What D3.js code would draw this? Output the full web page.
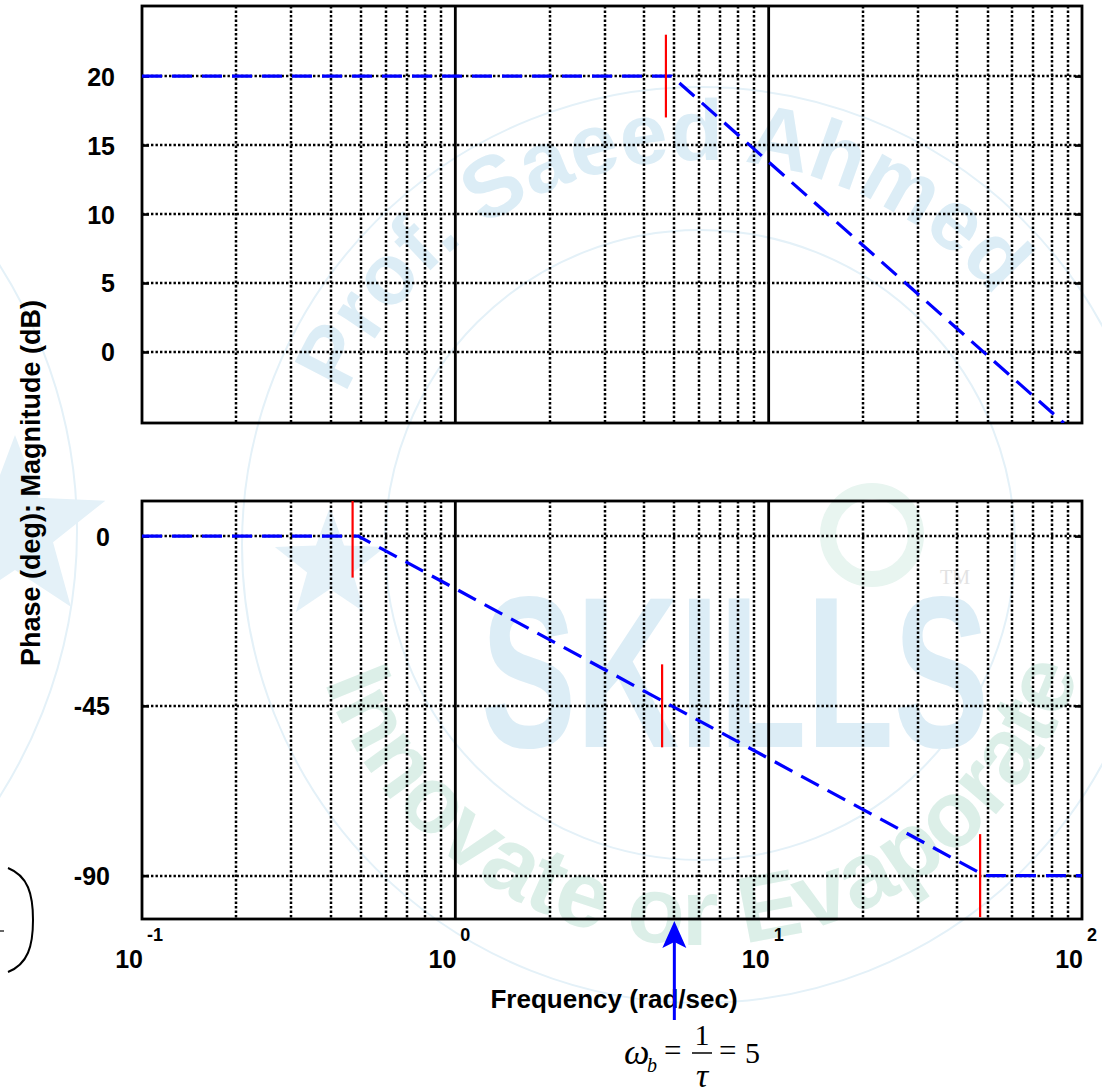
<!DOCTYPE html>
<html><head><meta charset="utf-8">
<script src="https://cdn.jsdelivr.net/npm/d3@7"></script>
<style>
html,body{margin:0;padding:0;background:#fff;}
svg{display:block;}
</style></head><body>
<svg id="chart" width="1102" height="1092"></svg>
<script>
// ---------------- data ----------------
const freqDomain = [0.1, 100];
const decadeTicks = [0.1, 1, 10, 100];
const decadeExponents = ["-1", "0", "1", "2"];
const majorGridFreqs = [1, 10];
const minorGridFreqs = [0.2, 0.3, 0.4, 0.5, 0.6, 0.7, 0.8, 0.9,
                        2, 3, 4, 5, 6, 7, 8, 9,
                        20, 30, 40, 50, 60, 70, 80, 90];

const magTicks = [0, 5, 10, 15, 20];
const magDomain = [-5.15, 25.08];
const phaseTicks = [-90, -45, 0];
const phaseDomain = [-101.5, 9.3];

// straight-line (asymptotic) Bode approximations
const magFreq = [0.1, 4.9, 87.5];
const magDB = [20, 20, -5.15];
const phaseFreq = [0.1, 0.49, 49, 100];
const phaseDeg = [0, 0, -90, -90];

// red corner markers
const magMarkFreq = [4.7];
const magMarkValue = [20];
const magMarkHalf = 3;
const phaseMarkFreq = [0.47, 4.57, 47.3];
const phaseMarkValue = [0, -45, -90];
const phaseMarkHalf = 11;

const breakFreq = 5;

const yLabel = "Phase (deg); Magnitude (dB)";
const xLabel = "Frequency (rad/sec)";

// ---------------- layout ----------------
const left = 142, right = 1082;
const magTop = 6, magBottom = 423;
const phTop = 501, phBottom = 919;
const BOLD = "'Liberation Sans', Arial, Helvetica, sans-serif";
const SERIF = "'Liberation Serif', 'Times New Roman', serif";

const svg = d3.select("#chart");
const x = d3.scaleLog().domain(freqDomain).range([left, right]);
const yMag = d3.scaleLinear().domain(magDomain).range([magBottom, magTop]);
const yPh = d3.scaleLinear().domain(phaseDomain).range([phBottom, phTop]);

// ---------------- faint watermark ----------------
const wm = svg.append("g").attr("class", "watermark");
const cx = 700, cy = 545;
const wmBlue = "#dcedf6", wmGreen = "#dcefe8", wmLine = "#e4f1f8";
wm.append("circle").attr("cx", cx).attr("cy", cy).attr("r", 458)
  .attr("fill", "none").attr("stroke", wmLine).attr("stroke-width", 2);
wm.append("circle").attr("cx", cx).attr("cy", cy).attr("r", 315)
  .attr("fill", "none").attr("stroke", wmLine).attr("stroke-width", 2);
wm.append("circle").attr("cx", -417).attr("cy", 531).attr("r", 494)
  .attr("fill", "none").attr("stroke", wmLine).attr("stroke-width", 2);

function star(cxs, cys, ro, ri) {
  const pts = [];
  for (let i = 0; i < 10; i++) {
    const a = -Math.PI / 2 + i * Math.PI / 5;
    const r = i % 2 === 0 ? ro : ri;
    pts.push([cxs + r * Math.cos(a), cys + r * Math.sin(a)]);
  }
  return pts.map(p => p.join(",")).join(" ");
}
wm.append("polygon").attr("points", star(330, 565, 58, 24)).attr("fill", "#e4f1f8");
wm.append("polygon").attr("points", star(15, 530, 95, 40)).attr("fill", "#e4f1f8");
wm.append("circle").attr("cx", 872).attr("cy", 535).attr("r", 44)
  .attr("fill", "none").attr("stroke", "#e8f5f0").attr("stroke-width", 16);

const defs = svg.append("defs");
function arcPath(r, a0, a1, sweep) {
  const rad = d => d * Math.PI / 180;
  const p0 = [cx + r * Math.cos(rad(a0)), cy + r * Math.sin(rad(a0))];
  const p1 = [cx + r * Math.cos(rad(a1)), cy + r * Math.sin(rad(a1))];
  const large = Math.abs(a1 - a0) > 180 ? 1 : 0;
  return `M${p0[0]},${p0[1]} A${r},${r} 0 ${large} ${sweep} ${p1[0]},${p1[1]}`;
}
defs.append("path").attr("id", "wmTop").attr("d", arcPath(385, 203, 350, 1));
defs.append("path").attr("id", "wmBot").attr("d", arcPath(400, 160, 5, 0));
wm.append("text").attr("font-family", BOLD).attr("font-weight", "bold")
  .attr("font-size", 86).attr("fill", wmBlue)
  .append("textPath").attr("href", "#wmTop").attr("startOffset", 0)
  .text("Prof. Saeed Ahmed");
wm.append("text").attr("font-family", BOLD).attr("font-weight", "bold")
  .attr("font-size", 94).attr("fill", wmGreen)
  .append("textPath").attr("href", "#wmBot").attr("startOffset", 0)
  .text("Innovate or Evaporate");
wm.append("text").attr("x", 481).attr("y", 747)
  .attr("font-family", BOLD).attr("font-weight", "bold").attr("font-size", 215)
  .attr("textLength", 508).attr("lengthAdjust", "spacingAndGlyphs")
  .attr("fill", wmBlue).text("SKILLS");
wm.append("text").attr("x", 940).attr("y", 584)
  .attr("font-family", SERIF).attr("font-size", 20).attr("fill", "#e2e2e2").text("TM");

// ---------------- panels ----------------
const dotted = "2.4,2.1";
function panel(y, top, bottom, ticks, labelPad, id) {
  const g = svg.append("g");
  g.selectAll("line.vminor").data(minorGridFreqs).join("line")
    .attr("x1", d => Math.round(x(d))).attr("x2", d => Math.round(x(d)))
    .attr("y1", top).attr("y2", bottom)
    .attr("stroke", "#000").attr("stroke-width", 2.5).attr("stroke-dasharray", dotted);
  g.selectAll("line.hgrid").data(ticks).join("line")
    .attr("x1", left).attr("x2", right)
    .attr("y1", d => Math.round(y(d))).attr("y2", d => Math.round(y(d)))
    .attr("stroke", "#000").attr("stroke-width", 2.5).attr("stroke-dasharray", dotted);
  g.selectAll("line.vmajor").data(majorGridFreqs).join("line")
    .attr("x1", d => x(d)).attr("x2", d => x(d))
    .attr("y1", top).attr("y2", bottom)
    .attr("stroke", "#000").attr("stroke-width", 2.8);
  const ax = g.append("g").attr("transform", `translate(${left},0)`)
    .call(d3.axisLeft(y).tickValues(ticks).tickSize(-7).tickPadding(labelPad).tickFormat(d => String(d)));
  ax.select(".domain").remove();
  ax.selectAll(".tick line").attr("stroke", "#000").attr("stroke-width", 2.6);
  ax.selectAll(".tick text").attr("font-family", BOLD).attr("font-weight", "bold")
    .attr("font-size", 25).attr("fill", "#000").attr("dy", "0.36em");
  const axr = g.append("g").attr("transform", `translate(${right},0)`)
    .call(d3.axisRight(y).tickValues(ticks).tickSize(-7).tickFormat(""));
  axr.select(".domain").remove();
  axr.selectAll(".tick line").attr("stroke", "#000").attr("stroke-width", 2.6);
  g.append("rect").attr("x", left).attr("y", top)
    .attr("width", right - left).attr("height", bottom - top)
    .attr("fill", "none").attr("stroke", "#000").attr("stroke-width", 2.8);
  defs.append("clipPath").attr("id", id)
    .append("rect").attr("x", left).attr("y", top)
    .attr("width", right - left).attr("height", bottom - top);
  return g;
}

const gMag = panel(yMag, magTop, magBottom, magTicks, 27, "clipMag");
const gPh = panel(yPh, phTop, phBottom, phaseTicks, 32, "clipPh");

// asymptotes
const magLine = d3.line().x(d => x(d[0])).y(d => yMag(d[1]));
const phLine = d3.line().x(d => x(d[0])).y(d => yPh(d[1]));
gMag.append("path").datum(d3.zip(magFreq, magDB))
  .attr("clip-path", "url(#clipMag)")
  .attr("d", magLine).attr("fill", "none").attr("stroke", "#0000ff")
  .attr("stroke-width", 3.2).attr("stroke-dasharray", "20,10");
gPh.append("path").datum(d3.zip(phaseFreq, phaseDeg))
  .attr("clip-path", "url(#clipPh)")
  .attr("d", phLine).attr("fill", "none").attr("stroke", "#0000ff")
  .attr("stroke-width", 3.2).attr("stroke-dasharray", "20,10");

// red markers
gMag.selectAll("line.mark").data(d3.zip(magMarkFreq, magMarkValue)).join("line")
  .attr("x1", d => x(d[0])).attr("x2", d => x(d[0]))
  .attr("y1", d => yMag(d[1] + magMarkHalf)).attr("y2", d => yMag(d[1] - magMarkHalf))
  .attr("stroke", "#ff0000").attr("stroke-width", 2.2);
gPh.selectAll("line.mark").data(d3.zip(phaseMarkFreq, phaseMarkValue)).join("line")
  .attr("clip-path", "url(#clipPh)")
  .attr("x1", d => x(d[0])).attr("x2", d => x(d[0]))
  .attr("y1", d => yPh(d[1] + phaseMarkHalf)).attr("y2", d => yPh(d[1] - phaseMarkHalf))
  .attr("stroke", "#ff0000").attr("stroke-width", 2.2);

// x tick labels (10 with superscript)
const xl = svg.append("g");
xl.selectAll("text.base").data(decadeTicks).join("text")
  .attr("x", d => x(d) + 1).attr("y", 968).attr("text-anchor", "end")
  .attr("font-family", BOLD).attr("font-weight", "bold").attr("font-size", 25)
  .text("10");
xl.selectAll("text.exp").data(d3.zip(decadeTicks, decadeExponents)).join("text")
  .attr("x", d => x(d[0]) + 5).attr("y", 941)
  .attr("font-family", BOLD).attr("font-weight", "bold").attr("font-size", 18)
  .text(d => d[1]);

// axis titles
svg.append("text").attr("x", 614).attr("y", 1008).attr("text-anchor", "middle")
  .attr("font-family", BOLD).attr("font-weight", "bold").attr("font-size", 26)
  .text(xLabel);
svg.append("text").attr("transform", "translate(40,483) rotate(-90)")
  .attr("text-anchor", "middle")
  .attr("font-family", BOLD).attr("font-weight", "bold").attr("font-size", 27)
  .text(yLabel);

// break-frequency arrow
const ax5 = x(breakFreq);
svg.append("line").attr("x1", ax5).attr("x2", ax5).attr("y1", 1020).attr("y2", 940)
  .attr("stroke", "#0000ff").attr("stroke-width", 3);
svg.append("polygon")
  .attr("points", `${ax5},921 ${ax5 - 12},948 ${ax5},942 ${ax5 + 12},948`)
  .attr("fill", "#0000ff");

// formula  ω_b = 1/τ = 5
const fm = svg.append("g").attr("font-family", SERIF).attr("fill", "#000");
fm.append("text").attr("x", 624).attr("y", 1064).attr("font-size", 36)
  .attr("font-style", "italic").text("ω");
fm.append("text").attr("x", 647).attr("y", 1072).attr("font-size", 20)
  .attr("font-style", "italic").text("b");
fm.append("text").attr("x", 664).attr("y", 1061).attr("font-size", 31).text("=");
fm.append("text").attr("x", 702).attr("y", 1045).attr("font-size", 30)
  .attr("text-anchor", "middle").text("1");
fm.append("line").attr("x1", 692).attr("x2", 712).attr("y1", 1053).attr("y2", 1053)
  .attr("stroke", "#000").attr("stroke-width", 1.5);
fm.append("text").attr("x", 702).attr("y", 1087).attr("font-size", 34)
  .attr("font-style", "italic").attr("text-anchor", "middle").text("τ");
fm.append("text").attr("x", 719).attr("y", 1061).attr("font-size", 31).text("=");
fm.append("text").attr("x", 745).attr("y", 1063).attr("font-size", 30).text("5");

// cropped bracket remnant at left edge
svg.append("path")
  .attr("d", "M8,868 C28,876 33,894 33,920 C33,946 28,964 8,972")
  .attr("fill", "none").attr("stroke", "#000").attr("stroke-width", 2);
svg.append("line").attr("x1", 0).attr("x2", 4).attr("y1", 931).attr("y2", 931)
  .attr("stroke", "#000").attr("stroke-width", 1.2);
</script>
</body></html>
